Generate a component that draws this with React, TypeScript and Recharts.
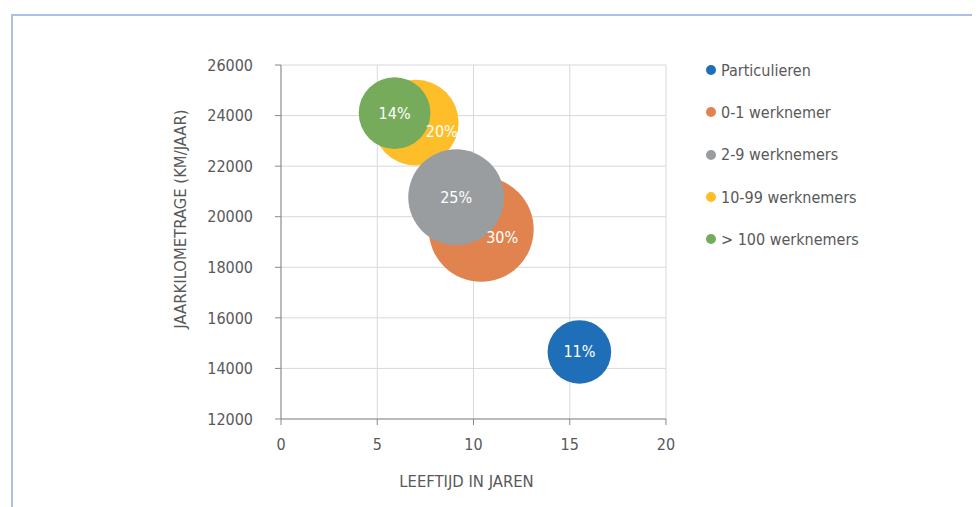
import React from "react";
import {
  ScatterChart,
  Scatter,
  XAxis,
  YAxis,
  ZAxis,
  CartesianGrid,
  Legend,
  LabelList,
  Label,
} from "recharts";

const seriesNames = [
  "Particulieren",
  "0-1 werknemer",
  "2-9 werknemers",
  "10-99 werknemers",
  "> 100 werknemers",
];
const ageYears = [15.5, 10.4, 9.1, 7.0, 5.9];
const kmPerYear = [14650, 19500, 20770, 23720, 24100];
const sharePct = [11, 30, 25, 20, 14];

const xTicks = [0, 5, 10, 15, 20];
const yTicks = [12000, 14000, 16000, 18000, 20000, 22000, 24000, 26000];

const colors = ["#1f6fb8", "#e0834f", "#9a9d9f", "#fdbe2a", "#77ab5c"];
// drawing order: gray sits on top of yellow and orange
const drawOrder = [0, 1, 3, 4, 2];
// some labels were dragged off-centre in the original
const labelShift = [
  [0, 0],
  [21, 8],
  [0, 0],
  [26, 9],
  [0, 0],
];

const FONT = "'Liberation Sans Narrow', 'DejaVu Sans Condensed', sans-serif";
const TEXT = "#595959";
const AXIS = "#898989";
const FS = 16;

const bubbleLabel = (i: number) => (props: any) => {
  const vb = props.viewBox || props;
  const cx = vb.x + vb.width / 2 + labelShift[i][0];
  const cy = vb.y + vb.height / 2 + labelShift[i][1];
  return (
    <text
      x={cx}
      y={cy}
      textAnchor="middle"
      dominantBaseline="central"
      fill="#ffffff"
      fontSize={FS}
      fontFamily={FONT}
    >
      {props.value}%
    </text>
  );
};

const yTitle = (props: any) => {
  const vb = props.viewBox;
  const cx = vb.x + vb.width - 101;
  const cy = vb.y + vb.height / 2 - 23;
  return (
    <text
      x={cx}
      y={cy}
      transform={`rotate(-90 ${cx} ${cy})`}
      textAnchor="middle"
      dominantBaseline="central"
      fill={TEXT}
      fontSize={16.5}
      fontFamily={FONT}
    >
      JAARKILOMETRAGE (KM/JAAR)
    </text>
  );
};

const xTitle = (props: any) => {
  const vb = props.viewBox;
  return (
    <text
      x={vb.x + vb.width / 2 - 7}
      y={vb.y + 68}
      textAnchor="middle"
      fill={TEXT}
      fontSize={16.5}
      fontFamily={FONT}
    >
      LEEFTIJD IN JAREN
    </text>
  );
};

const renderLegend = (props: any) => {
  const items = [...(props.payload || [])].sort(
    (a: any, b: any) => seriesNames.indexOf(a.value) - seriesNames.indexOf(b.value)
  );
  return (
    <div style={{ fontFamily: FONT, fontSize: FS, color: TEXT }}>
      {items.map((p: any) => (
        <div
          key={p.value}
          style={{ height: 42.3, display: "flex", alignItems: "center" }}
        >
          <span
            style={{
              width: 10,
              height: 10,
              borderRadius: 5,
              background: p.color,
              marginRight: 5,
              display: "inline-block",
            }}
          />
          <span>{p.value}</span>
        </div>
      ))}
    </div>
  );
};

export default function App() {
  return (
    <div
      style={{
        position: "relative",
        width: 972,
        height: 499,
        overflow: "hidden",
        background: "#fff",
      }}
    >
      <div
        style={{
          position: "absolute",
          left: 3,
          top: 6,
          width: 1000,
          height: 600,
          borderTop: "2px solid #adbfe6",
          borderLeft: "2px solid #adbfe6",
        }}
      />
      <div style={{ position: "absolute", left: 0, top: 0 }}>
        <ScatterChart
          width={972}
          height={499}
          margin={{ top: 57, right: 314, left: 152, bottom: 28 }}
        >
          <CartesianGrid stroke="#d9d9d9" />
          <XAxis
            type="number"
            dataKey="x"
            domain={[0, 20]}
            ticks={xTicks}
            height={60}
            tickMargin={14}
            axisLine={{ stroke: AXIS }}
            tickLine={{ stroke: AXIS }}
            tick={{ fill: TEXT, fontSize: FS, fontFamily: FONT }}
          >
            <Label content={xTitle} />
          </XAxis>
          <YAxis
            type="number"
            dataKey="y"
            domain={[12000, 26000]}
            ticks={yTicks}
            width={121}
            tickMargin={22}
            axisLine={{ stroke: AXIS }}
            tickLine={{ stroke: AXIS }}
            tick={{ fill: TEXT, fontSize: FS, fontFamily: FONT }}
          >
            <Label content={yTitle} />
          </YAxis>
          <ZAxis type="number" dataKey="z" domain={[0, 30]} range={[0, 8660]} />
          <Legend
            layout="vertical"
            align="center"
            verticalAlign="middle"
            content={renderLegend}
            wrapperStyle={{ left: 698, top: 41, width: 220, height: 215 }}
          />
          {drawOrder.map((i) => (
            <Scatter
              key={seriesNames[i]}
              name={seriesNames[i]}
              data={[{ x: ageYears[i], y: kmPerYear[i], z: sharePct[i] }]}
              fill={colors[i]}
              isAnimationActive={false}
            >
              <LabelList dataKey="z" content={bubbleLabel(i)} />
            </Scatter>
          ))}
        </ScatterChart>
      </div>
    </div>
  );
}
